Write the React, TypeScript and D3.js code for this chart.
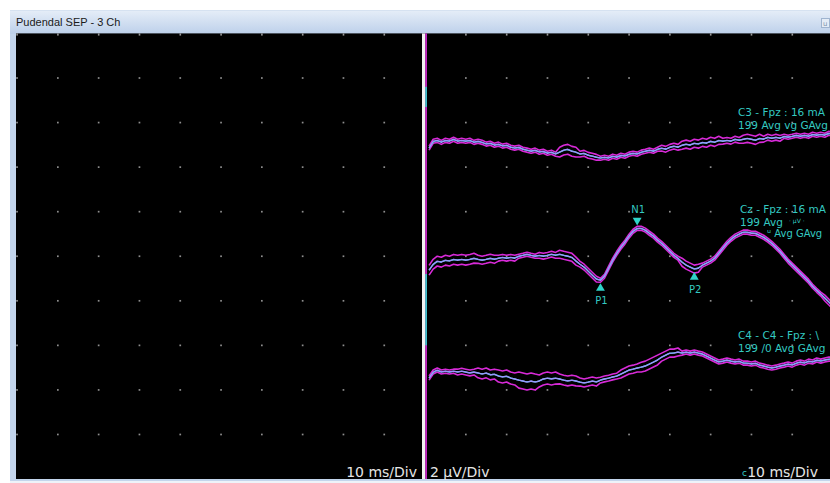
import React from 'react';
import * as d3 from 'd3';

const W = 830;
const H = 483;

// ---- data ----
const titleText = 'Pudendal SEP - 3 Ch';
const leftScaleLabel = '10 ms/Div';
const gainLabel = '2 µV/Div';
const rightScaleLabel = '10 ms/Div';

// sample times (ms) of the averaged traces
const sampleTimesMs = d3.range(1, 101);

// averaged traces (µV, positive = up on screen), one value per ms
const c3Uv = [
  -0.22, 0.09, 0.13, 0.04, 0.13, 0.09, 0.18, 0.09, 0.13, 0.09,
  0.13, 0.04, 0.09, 0.04, -0.04, 0.0, -0.09, -0.04, -0.13, -0.09,
  -0.18, -0.22, -0.18, -0.27, -0.31, -0.36, -0.31, -0.4, -0.36, -0.45,
  -0.4, -0.49, -0.4, -0.31, -0.27, -0.36, -0.4, -0.49, -0.45, -0.54,
  -0.58, -0.63, -0.67, -0.63, -0.67, -0.58, -0.63, -0.54, -0.58, -0.49,
  -0.45, -0.49, -0.4, -0.36, -0.31, -0.36, -0.27, -0.22, -0.27, -0.18,
  -0.13, -0.18, -0.09, -0.04, -0.09, 0.0, -0.04, 0.04, 0.0, 0.09,
  0.04, 0.13, 0.09, 0.13, 0.09, 0.18, 0.13, 0.18, 0.22, 0.18,
  0.13, 0.22, 0.18, 0.27, 0.22, 0.27, 0.22, 0.31, 0.27, 0.31,
  0.36, 0.31, 0.36, 0.31, 0.4, 0.36, 0.4, 0.36, 0.45, 0.4,
];

const czUv = [
  -0.45, -0.18, -0.04, -0.09, 0.0, -0.04, 0.04, 0.0, 0.04, 0.0,
  0.04, 0.09, 0.04, 0.0, 0.04, 0.09, 0.04, 0.09, 0.13, 0.09,
  0.13, 0.09, 0.18, 0.22, 0.27, 0.22, 0.18, 0.22, 0.18, 0.22,
  0.27, 0.22, 0.27, 0.22, 0.18, 0.13, -0.04, -0.18, -0.31, -0.49,
  -0.67, -0.85, -0.9, -0.72, -0.36, 0.0, 0.31, 0.58, 0.81, 1.08,
  1.3, 1.43, 1.43, 1.35, 1.21, 1.08, 0.9, 0.76, 0.58, 0.4,
  0.22, 0.09, -0.09, -0.22, -0.31, -0.4, -0.36, -0.22, -0.13, -0.04,
  0.09, 0.31, 0.54, 0.76, 0.94, 1.08, 1.17, 1.26, 1.26, 1.21,
  1.21, 1.12, 1.03, 0.9, 0.76, 0.58, 0.4, 0.18, -0.04, -0.22,
  -0.4, -0.58, -0.76, -0.94, -1.17, -1.35, -1.52, -1.7, -1.88, -2.06,
];

const c4Uv = [
  -0.27, 0.0, 0.09, 0.0, 0.04, 0.0, 0.04, 0.0, 0.04, 0.0,
  -0.04, 0.0, -0.04, -0.09, -0.04, -0.13, -0.09, -0.18, -0.22, -0.18,
  -0.27, -0.31, -0.36, -0.4, -0.45, -0.4, -0.45, -0.4, -0.31, -0.27,
  -0.31, -0.27, -0.31, -0.36, -0.4, -0.36, -0.4, -0.45, -0.49, -0.45,
  -0.4, -0.45, -0.36, -0.31, -0.27, -0.22, -0.18, -0.09, 0.0, 0.09,
  0.13, 0.18, 0.22, 0.27, 0.36, 0.45, 0.54, 0.67, 0.76, 0.85,
  0.85, 0.9, 0.85, 0.9, 0.85, 0.9, 0.85, 0.81, 0.72, 0.63,
  0.54, 0.45, 0.49, 0.54, 0.49, 0.45, 0.49, 0.4, 0.4, 0.36,
  0.4, 0.31, 0.27, 0.22, 0.18, 0.22, 0.27, 0.31, 0.36, 0.31,
  0.4, 0.45, 0.4, 0.49, 0.45, 0.54, 0.49, 0.54, 0.58, 0.58,
];

// half-width (µV) of the trial-to-trial envelope, one value every 5 ms (0..100)
const c3SpreadUv = [0.09, 0.09, 0.09, 0.09, 0.09, 0.09, 0.09, 0.22, 0.13, 0.09, 0.09, 0.09, 0.13, 0.18, 0.18, 0.13, 0.18, 0.13, 0.09, 0.09, 0.09];
const czSpreadUv = [0.22, 0.22, 0.22, 0.18, 0.13, 0.09, 0.13, 0.18, 0.13, 0.09, 0.09, 0.09, 0.09, 0.18, 0.09, 0.09, 0.09, 0.09, 0.09, 0.09, 0.13];
const c4SpreadUv = [0.09, 0.09, 0.13, 0.22, 0.27, 0.36, 0.27, 0.22, 0.18, 0.13, 0.18, 0.22, 0.18, 0.09, 0.09, 0.09, 0.09, 0.09, 0.09, 0.09, 0.09];

// channel baselines on the 0..20 µV screen scale (10 div × 2 µV)
const channelBaselineUv = [15.07, 9.82, 4.8];
const channelLine1 = ['C3 - Fpz : 16 mA', 'Cz - Fpz : 16 mA', 'C4 - C4 - Fpz : \\'];
const channelLine2 = ['199 Avg vg GAvg', '199 Avg', '199 /0 Avg GAvg'];

// peak markers: channel index, latency (ms), label, direction
const peakLabels = ['P1', 'N1', 'P2'];
const peakChannel = [1, 1, 1];
const peakLatencyMs = [43, 52, 66];
const peakPointsUp = [true, false, true];

// stimulus artifact segments (µV on screen scale)
const artifactCyanRanges: [number, number][] = [[16.7, 17.6], [6.0, 9.2]];

const traces = [c3Uv, czUv, c4Uv];
const spreads = [c3SpreadUv, czSpreadUv, c4SpreadUv];

export default function App() {
  const plotLeft = 16;
  const plotTop = 33.4;
  const plotBottom = 479;
  const divider = 425;

  const yScale = d3.scaleLinear().domain([0, 20]).range([plotBottom, plotTop]);
  const tScale = d3.scaleLinear().domain([0, 100]).range([divider, 833]);
  const gridX = d3.scaleLinear().domain([0, 20]).range([17, 833]);

  const colIdx = d3.range(0, 20).filter((k) => k !== 10);
  const rowVals = d3.range(2, 20, 2);

  const MAG = '#d82ad8';
  const CYAN = '#2fd3c9';
  const LAV = '#9c94ff';
  const TXT_CY = '#34c9c2';

  const spreadAt = (arr: number[], t: number) => arr[Math.min(arr.length - 1, Math.round(t / 5))];

  const channels = traces.map((vals, c) => {
    const base = channelBaselineUv[c];
    const y = (v: number) => yScale(base + v);
    const jag = d3
      .line<number>()
      .x((_, i) => tScale(sampleTimesMs[i]))
      .y((v) => y(v))
      .curve(d3.curveLinear);
    const mean = jag(vals) || '';
    const upper = jag(vals.map((v, i) => v + spreadAt(spreads[c], sampleTimesMs[i]))) || '';
    const lower = jag(vals.map((v, i) => v - spreadAt(spreads[c], sampleTimesMs[i]))) || '';
    const smooth =
      d3
        .line<number>()
        .x((_, i) => tScale(sampleTimesMs[i]))
        .y((v) => y(v))
        .curve(d3.curveBasis)(vals) || '';
    return { mean, upper, lower, smooth };
  });

  const tri = d3.symbol().type(d3.symbolTriangle).size(34)() || '';

  return (
    <svg
      width={W}
      height={H}
      style={{ position: 'absolute', left: 0, top: 0, display: 'block' }}
      fontFamily="'DejaVu Sans', sans-serif"
    >
      <defs>
        <linearGradient id="titleGrad" x1="0" y1="0" x2="0" y2="1">
          <stop offset="0" stopColor="#e6eef8" />
          <stop offset="1" stopColor="#bdd0ea" />
        </linearGradient>
        <clipPath id="rightClip">
          <rect x={divider} y={plotTop} width={W - divider} height={plotBottom - plotTop} />
        </clipPath>
      </defs>
      <rect x={0} y={0} width={W} height={H} fill="#ffffff" />
      {/* window frame */}
      <rect x={10} y={10} width={W - 10} height={H - 10} fill="#c3d5ec" />
      <rect x={10} y={10} width={W - 10} height={24} fill="url(#titleGrad)" />
      <line x1={10} y1={10.5} x2={W} y2={10.5} stroke="#d6e2f1" />
      <rect x={10} y={481} width={W - 10} height={2} fill="#eef3f9" />
      <text x={16} y={26} fontFamily="'Liberation Sans', Arial, sans-serif" fontSize={11} fill="#1a1a1a">
        {titleText}
      </text>
      <rect x={821.5} y={18.5} width={8} height={9} fill="#e4ecf6" stroke="#9fb4cf" />
      <text x={823} y={26} fontSize={7} fill="#7f93ad">u</text>

      {/* plot area */}
      <rect x={plotLeft} y={plotTop} width={W - plotLeft} height={plotBottom - plotTop} fill="#000000" />

      {/* top tick marks */}
      {colIdx.map((k) => (
        <rect key={'tt' + k} x={gridX(k) - 0.7} y={plotTop} width={1.6} height={2.2} fill="#9a9a9a" />
      ))}
      {/* grid dots */}
      {colIdx.map((k) =>
        rowVals.map((r) => (
          <rect key={'d' + k + '-' + r} x={gridX(k) - 0.8} y={yScale(r) - 0.8} width={1.7} height={1.7} fill="#8e8e8e" />
        ))
      )}

      {/* divider */}
      <rect x={422} y={plotTop} width={3.3} height={plotBottom - plotTop} fill="#f2f2f2" />
      <rect x={425.3} y={plotTop} width={1.6} height={plotBottom - plotTop} fill={MAG} />
      {artifactCyanRanges.map((r, i) => (
        <rect key={'ac' + i} x={425.3} y={yScale(r[1])} width={1.6} height={yScale(r[0]) - yScale(r[1])} fill={CYAN} />
      ))}

      {/* traces */}
      <g clipPath="url(#rightClip)" fill="none" strokeLinejoin="round">
        {channels.map((ch, i) => (
          <g key={'ch' + i}>
            <path d={ch.upper} stroke={MAG} strokeWidth={1.6} />
            <path d={ch.lower} stroke={MAG} strokeWidth={1.6} />
            <path d={ch.smooth} stroke={CYAN} strokeWidth={1.3} />
            <path d={ch.mean} stroke={LAV} strokeWidth={1.4} />
          </g>
        ))}
      </g>

      {/* peak markers */}
      {peakLabels.map((lab, i) => {
        const c = peakChannel[i];
        const idx = sampleTimesMs.indexOf(peakLatencyMs[i]);
        const x = tScale(peakLatencyMs[i]);
        const yv = yScale(channelBaselineUv[c] + traces[c][idx]);
        const up = peakPointsUp[i];
        const ty = up ? yv + 8 : yv - 8;
        return (
          <g key={'pk' + lab}>
            <path d={tri} transform={`translate(${x},${ty}) rotate(${up ? 0 : 180})`} fill={CYAN} />
            <text
              x={x + 1}
              y={up ? ty + 16 : ty - 7}
              fontSize={10}
              textAnchor="middle"
              fill={TXT_CY}
            >
              {lab}
            </text>
          </g>
        );
      })}

      {/* channel labels */}
      <g fontSize={10.5} fill={TXT_CY}>
        <text x={738} y={116}>{channelLine1[0]}</text>
        <text x={738} y={129}>{channelLine2[0]}</text>
        <text x={740} y={213}>{channelLine1[1]}</text>
        <text x={740} y={226}>{channelLine2[1]}</text>
        <text x={789} y={223} fontSize={6}>{'· µV ·'}</text>
        <text x={767} y={237} fontSize={10}>{'ᵘ Avg GAvg'}</text>
        <text x={738} y={339}>{channelLine1[2]}</text>
        <text x={738} y={352}>{channelLine2[2]}</text>
      </g>

      {/* scale labels */}
      <g fontSize={14} fill="#e6e6e6">
        <text x={417} y={477} textAnchor="end">{leftScaleLabel}</text>
        <text x={430} y={477}>{gainLabel}</text>
        <text x={818} y={477} textAnchor="end">{rightScaleLabel}</text>
        <text x={742} y={476} fontSize={9} fill={TXT_CY}>c</text>
      </g>
    </svg>
  );
}
